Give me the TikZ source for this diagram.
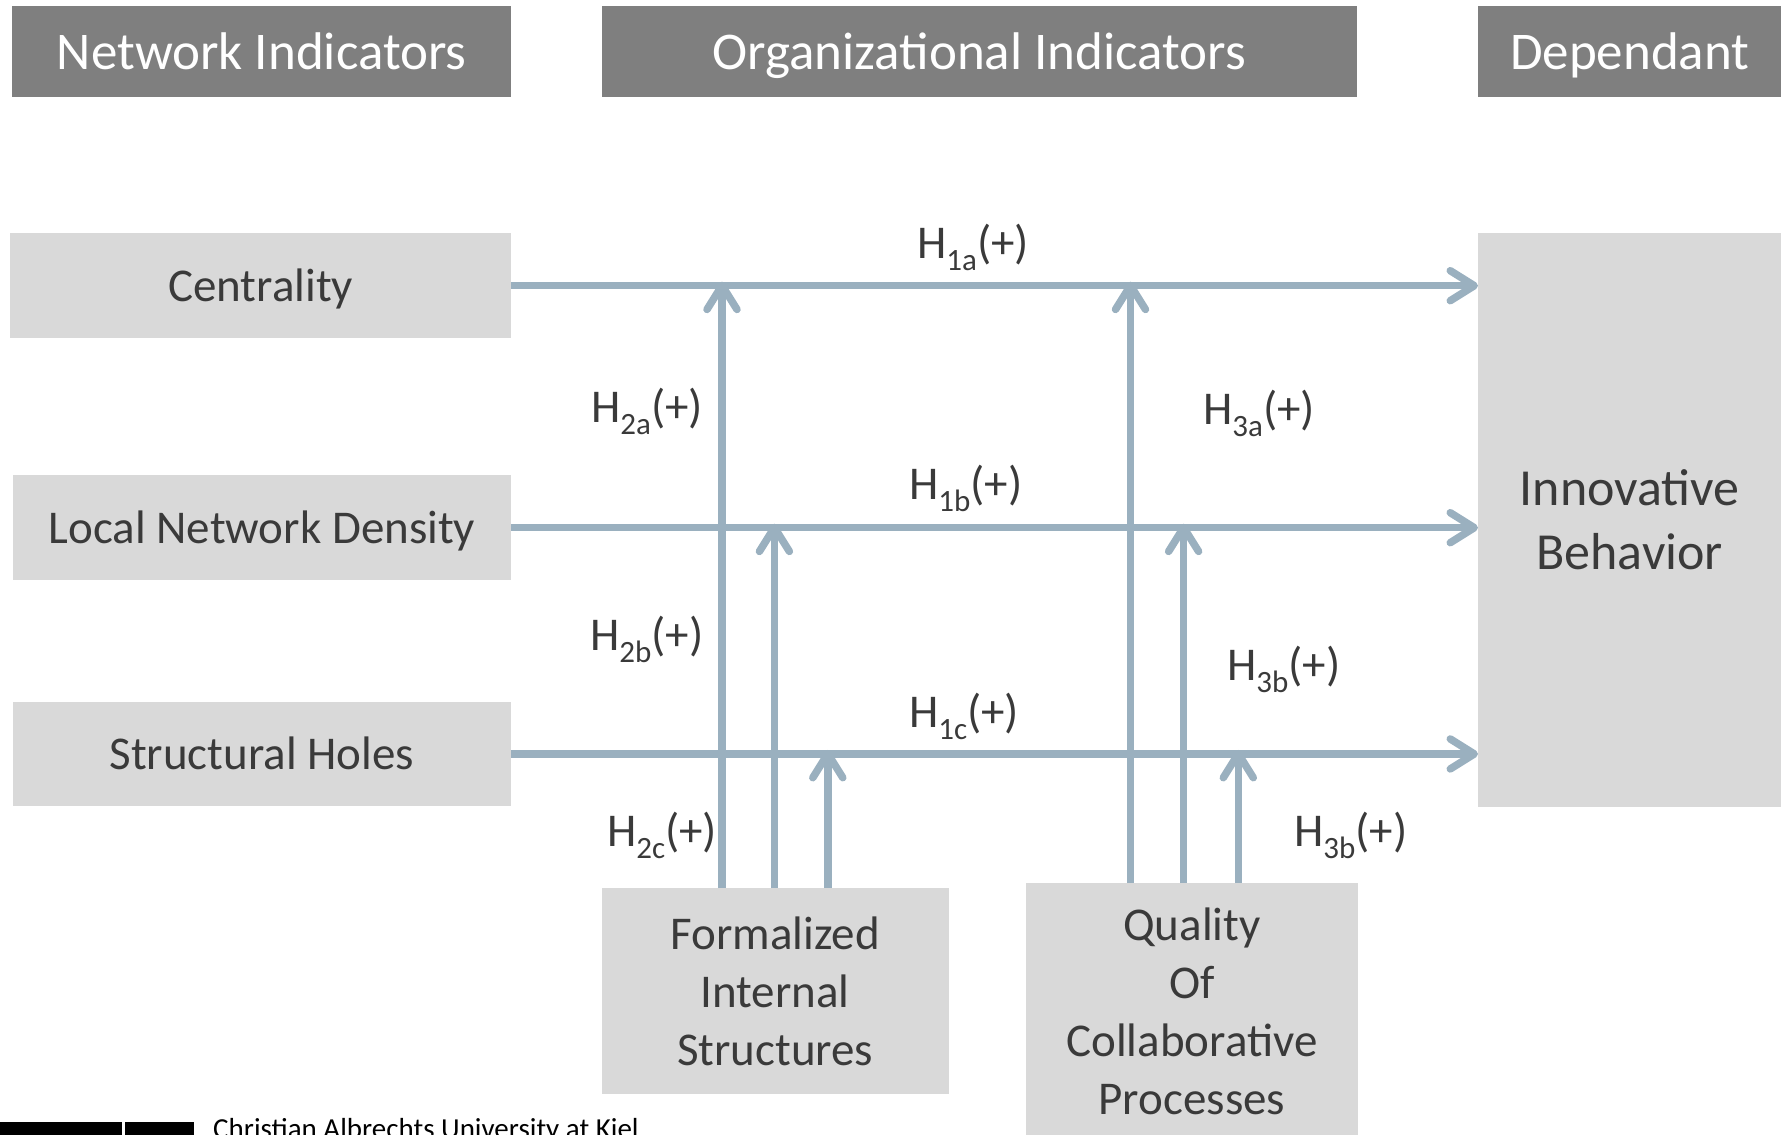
\documentclass[tikz,border=0pt]{standalone}
\usepackage{fontspec}
\setmainfont{Carlito}
\usetikzlibrary{arrows.meta}
\definecolor{hdrgray}{HTML}{7F7F7F}
\definecolor{boxgray}{HTML}{D9D9D9}
\definecolor{txtgray}{HTML}{3A3A3A}
\definecolor{linkblue}{HTML}{9AB0BF}
\newcommand\hsub[1]{\raisebox{-0.26em}{\fontsize{31}{31}\selectfont #1}}
\begin{document}
\begin{tikzpicture}[x=1pt,y=-1pt,
  hdr/.style={fill=hdrgray, text=white, inner sep=0pt, anchor=north west,
    text height=35pt, text depth=0pt, font=\fontsize{53}{64}\selectfont},
  item/.style={fill=boxgray, text=txtgray, inner sep=0pt, align=center, anchor=north west,
    font=\fontsize{47}{58}\selectfont},
  oneline/.style={text height=31pt, text depth=0pt},
  link/.style={draw=linkblue, line width=7.5pt,
    -{Straight Barb[length=24pt, width=30pt, round]}},
  hyp/.style={text=txtgray, inner sep=0pt, anchor=base west,
    font=\fontsize{47}{58}\selectfont}]
\useasboundingbox (0,0) rectangle (1783,1135);

% column headers
\node[hdr, minimum width=499, minimum height=91] (hNet) at (12,6) {Network Indicators};
\node[hdr, minimum width=755, minimum height=91] (hOrg) at (601.5,6) {Organizational Indicators};
\node[hdr, minimum width=303, minimum height=91] (hDep) at (1478,6) {Dependant};

% network indicator boxes
\node[item, oneline, minimum width=501, minimum height=105] (cent) at (10,233) {Centrality};
\node[item, oneline, minimum width=498.5, minimum height=105] (dens) at (12.5,475) {Local Network Density};
\node[item, oneline, minimum width=498.5, minimum height=104.5] (hole) at (12.5,701.5) {Structural Holes};

% dependent variable
\node[item, minimum width=303, minimum height=574, font=\fontsize{52}{64}\selectfont]
  (inno) at (1478,233) {Innovative\\Behavior};

% organizational indicator boxes
\node[item, minimum width=347, minimum height=206] (form) at (601.5,888)
  {Formalized\\Internal\\Structures};
\node[item, minimum width=332, minimum height=256] (qual) at (1025.7,883)
  {Quality\\Of\\Collaborative\\Processes};

% direct effects
\draw[link] (cent.east) -- (cent.east -| inno.west);
\draw[link] (dens.east) -- (dens.east -| inno.west);
\draw[link] (hole.east) -- (hole.east -| inno.west);

% moderating effects
\coordinate (f1) at (722,0);
\coordinate (f2) at (774.4,0);
\coordinate (f3) at (827.8,0);
\coordinate (q1) at (1130.5,0);
\coordinate (q2) at (1183.6,0);
\coordinate (q3) at (1238.3,0);
\draw[link, shorten >=-4pt] (form.north -| f1) -- (f1 |- cent.east);
\draw[link, shorten >=-4pt] (form.north -| f2) -- (f2 |- dens.east);
\draw[link, shorten >=-4pt] (form.north -| f3) -- (f3 |- hole.east);
\draw[link, shorten >=-4pt] (qual.north -| q1) -- (q1 |- cent.east);
\draw[link, shorten >=-4pt] (qual.north -| q2) -- (q2 |- dens.east);
\draw[link, shorten >=-4pt] (qual.north -| q3) -- (q3 |- hole.east);

% hypothesis labels
\node[hyp] (h1a) at (917,258) {H\hsub{1a}(+)};
\node[hyp] (h2a) at (591,422) {H\hsub{2a}(+)};
\node[hyp] (h3a) at (1203,424) {H\hsub{3a}(+)};
\node[hyp] (h1b) at (909,499) {H\hsub{1b}(+)};
\node[hyp] (h2b) at (590,650) {H\hsub{2b}(+)};
\node[hyp] (h3b) at (1227,680) {H\hsub{3b}(+)};
\node[hyp] (h1c) at (909,727) {H\hsub{1c}(+)};
\node[hyp] (h2c) at (607,846) {H\hsub{2c}(+)};
\node[hyp] (h3c) at (1294,846) {H\hsub{3b}(+)};

% footer
\node[fill=black, inner sep=0pt, anchor=north west, minimum width=122, minimum height=14] (logoA) at (0,1122) {};
\node[fill=black, inner sep=0pt, anchor=north west, minimum width=69, minimum height=14] (logoB) at (125,1122) {};
\node[anchor=base west, inner sep=0pt, text=black, font=\fontsize{29}{35}\selectfont]
  (uni) at (213,1138) {Christian Albrechts University at Kiel};
\end{tikzpicture}
\end{document}
